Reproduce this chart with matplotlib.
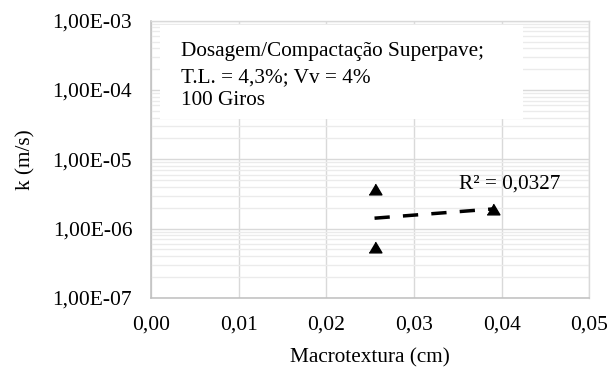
import numpy as np
import matplotlib
matplotlib.use("Agg")
import matplotlib.pyplot as plt
from matplotlib.ticker import FixedLocator, LogLocator, NullFormatter, FuncFormatter
from matplotlib.patches import Rectangle

plt.rcParams['font.family'] = ['Liberation Serif', 'DejaVu Serif']

# ensaios: macrotextura x permeabilidade
macrotextura = [0.0255, 0.0255, 0.0390]
k_ms = [3.70e-6, 5.40e-7, 1.92e-6]

x_ticks = [0.00, 0.01, 0.02, 0.03, 0.04, 0.05]
y_ticks = [1e-7, 1e-6, 1e-5, 1e-4, 1e-3]

info_lines = ["Dosagem/Compactação Superpave;",
              "T.L. = 4,3%; Vv = 4%",
              "100 Giros"]
r2_label = "R² = 0,0327"

TICK_FS = 15.5
LABEL_FS = 15.3

fig = plt.figure(figsize=(6.09, 3.69), dpi=100)
ax = fig.add_axes([0.2479, 0.1927, 0.7198, 0.7512])

ax.set_yscale('log')
ax.set_xlim(0, 0.05)
ax.set_ylim(1e-7, 1e-3)

ax.xaxis.set_major_locator(FixedLocator(x_ticks))
ax.yaxis.set_major_locator(FixedLocator(y_ticks))
ax.yaxis.set_minor_locator(LogLocator(base=10, subs=np.arange(2, 10)))
ax.yaxis.set_minor_formatter(NullFormatter())
ax.xaxis.set_major_formatter(FuncFormatter(lambda v, p: f"{v:.2f}".replace('.', ',')))
ax.yaxis.set_major_formatter(FuncFormatter(lambda v, p: f"{v:.2E}".replace('.', ',')))

ax.grid(True, which='major', color='#d9d9d9', linewidth=1.0)
ax.grid(True, which='minor', axis='y', color='#ebebeb', linewidth=1.0)
ax.set_axisbelow(True)

ax.tick_params(which='both', length=0)
ax.tick_params(axis='y', labelsize=TICK_FS, pad=13.5)
ax.tick_params(axis='x', labelsize=TICK_FS, pad=12.5)

for side in ['left', 'bottom']:
    ax.spines[side].set_color('#bfbfbf')
    ax.spines[side].set_linewidth(1.1)
for side in ['top', 'right']:
    ax.spines[side].set_color('#d9d9d9')
    ax.spines[side].set_linewidth(1.0)

ax.set_xlabel("Macrotextura (cm)", fontsize=LABEL_FS, labelpad=10)
ax.set_ylabel("k (m/s)", fontsize=LABEL_FS, labelpad=12)

# linha de tendencia exponencial (ajuste em log)
coef = np.polyfit(macrotextura, np.log(k_ms), 1)
xt = np.array([min(macrotextura), max(macrotextura)])
ax.plot(xt, np.exp(np.polyval(coef, xt)), color='black', linewidth=2.5,
        dashes=(4.4, 3.8), zorder=3)

tri = [(-1, -0.84), (1, -0.84), (0, 0.84)]
ax.plot(macrotextura, k_ms, linestyle='none', marker=tri, markersize=9.2,
        color='black', zorder=4)

# caixa de texto com fundo branco
ax.add_patch(Rectangle((0.0205, 0.6436), 0.8285, 0.341, transform=ax.transAxes,
                       facecolor='white', edgecolor='none', zorder=2))
for txt, yb in zip(info_lines, [0.8727, 0.7795, 0.6960]):
    ax.text(0.0684, yb, txt, transform=ax.transAxes, fontsize=LABEL_FS,
            va='baseline', ha='left', zorder=5)

ax.text(0.7034, 0.3954, r2_label, transform=ax.transAxes, fontsize=LABEL_FS,
        va='baseline', ha='left', zorder=5)

fig.savefig('out.png', dpi=100)
